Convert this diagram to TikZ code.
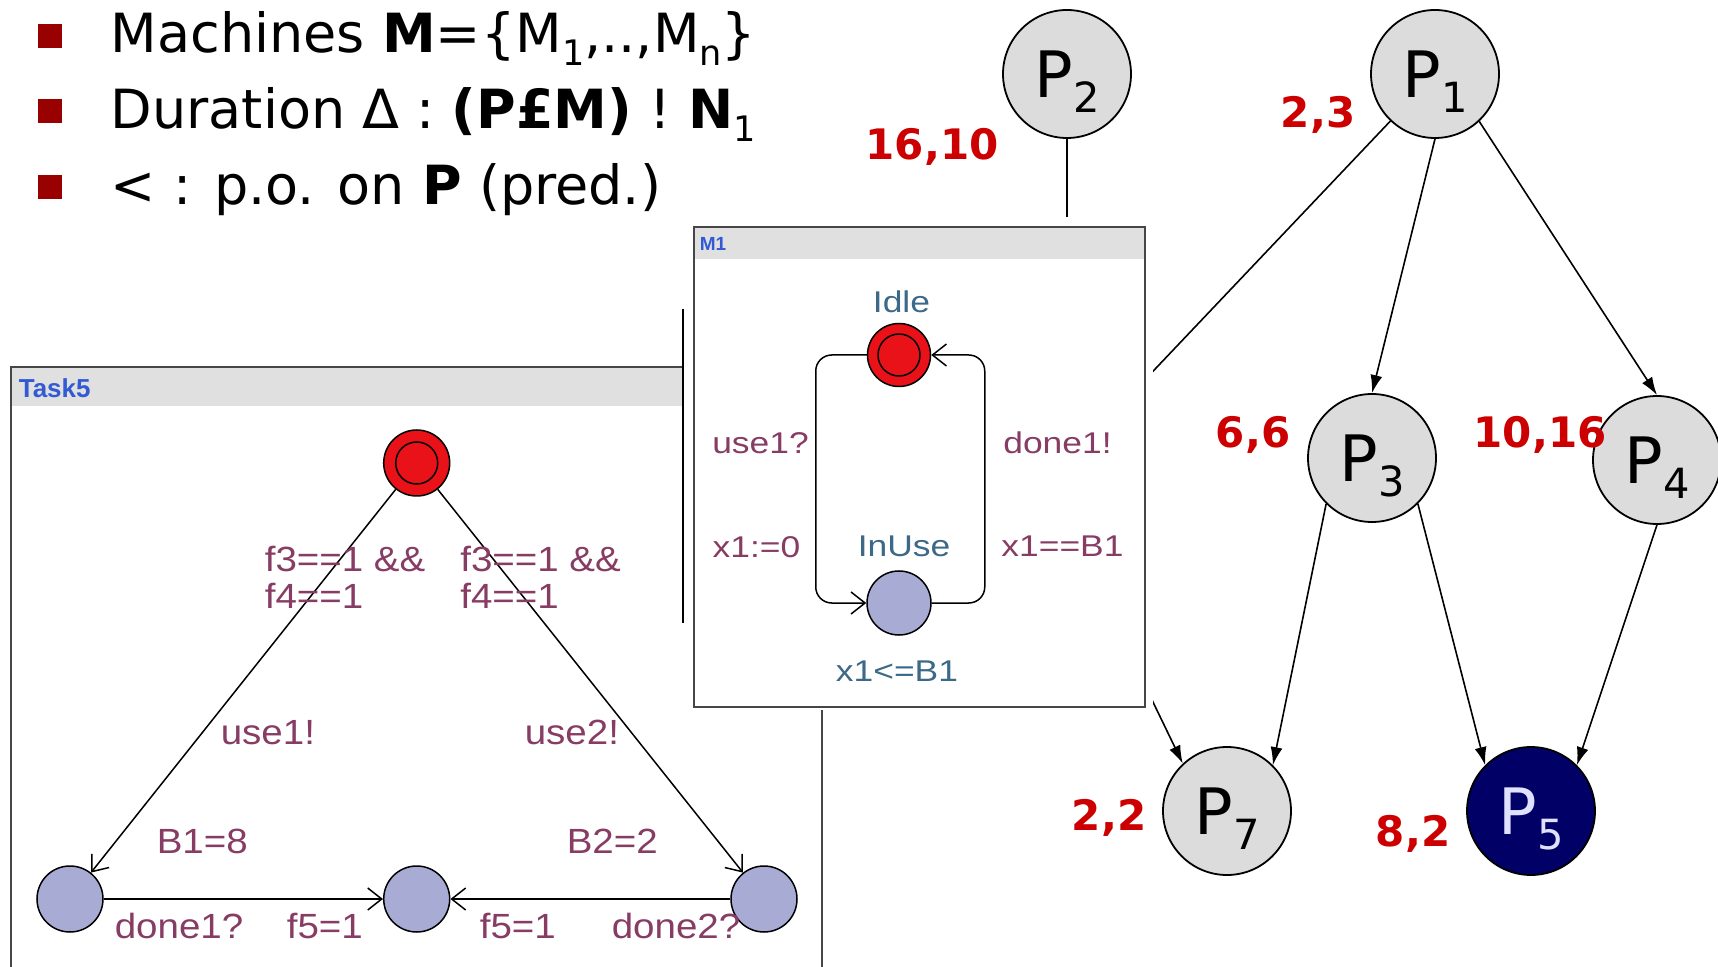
\documentclass[tikz,border=0pt]{standalone}
\usepackage{fontspec}
\setmainfont{DejaVu Sans}
\newfontfamily\winfont{Liberation Sans}
\newfontfamily\uppfont[FakeStretch=1.18]{Liberation Sans}
\newfontfamily\taskfont[FakeStretch=1.1]{Liberation Sans}
\usetikzlibrary{
    arrows.meta,
    positioning
}

\definecolor{bulletred}{RGB}{153,0,0}
\definecolor{costred}{RGB}{204,0,0}
\definecolor{nodegray}{RGB}{220,220,220}
\definecolor{darknavy}{RGB}{0,0,102}
\definecolor{locred}{RGB}{232,18,24}
\definecolor{locblue}{RGB}{168,172,212}
\definecolor{labmaroon}{RGB}{135,60,100}
\definecolor{labteal}{RGB}{60,105,135}
\definecolor{headblue}{RGB}{50,90,210}
\definecolor{headgray}{RGB}{224,224,224}
\definecolor{framegray}{RGB}{70,70,70}

\newcommand{\lowidx}[1]{\raisebox{-.24em}{\scalebox{.65}{#1}}}

\begin{document}
\begin{tikzpicture}[
    x=0.5pt,
    y=-0.5pt,
    line width=0.8pt,
    >={Latex[length=9pt,width=6pt]},
    task/.style={
        circle,
        draw,
        line width=0.9pt,
        fill=nodegray,
        minimum size=64pt,
        inner sep=0pt,
        text depth=0pt,
        font=\fontsize{32}{32}\selectfont
    },
    cost/.style={
        text=costred,
        inner sep=0pt,
        text depth=0pt,
        font=\fontsize{21}{21}\selectfont\bfseries
    },
    bullet/.style={
        fill=bulletred,
        inner sep=0pt,
        minimum size=12pt
    },
    item/.style={
        anchor=base west,
        inner sep=0pt,
        font=\fontsize{27}{27}\selectfont
    },
    window/.style={
        draw=framegray,
        line width=0.9pt
    },
    wintitle/.style={
        text=headblue,
        anchor=west,
        inner sep=0pt,
        font=\winfont\bfseries\fontsize{13}{13}\selectfont
    },
    loc/.style={
        circle,
        draw,
        line width=0.75pt,
        fill=locblue,
        minimum size=33pt,
        inner sep=0pt
    },
    initloc/.style={
        loc,
        fill=locred,
        path picture={
            \draw[line width=0.75pt] (path picture bounding box.center) circle (10.5pt);
        }
    },
    uedge/.style={
        line width=0.75pt,
        -{Straight Barb[length=7pt,width=11pt]}
    },
    tlabel/.style={
        text=labmaroon,
        anchor=west,
        align=left,
        inner sep=0pt,
        text depth=0pt,
        font=\taskfont\fontsize{17.5}{18.5}\selectfont
    },
    mlabel/.style={
        text=labmaroon,
        inner sep=0pt,
        text depth=0pt,
        font=\uppfont\fontsize{15}{15}\selectfont
    },
    mname/.style={
        mlabel,
        text=labteal
    }
]
\useasboundingbox (0,0) rectangle (1718,967);

%--------------------------------------------------
% definitions
\node[bullet] (b1) at (50,36) {};
\node[item] (machines) at (110,52.6)
{Machines \textbf{M}=\{M\lowidx{1},..,M\lowidx{n}\}};

\node[bullet] (b2) at (50,111) {};
\node[item] (duration) at (110,129)
{Duration Δ : \textbf{(P£M)} ! \textbf{N}\lowidx{1}};

\node[bullet] (b3) at (50,187) {};
\node[item] (order) at (110,205)
{< : p.o. on \textbf{P} (pred.)};

%--------------------------------------------------
% task graph
\node[task] (p2) at (1067,74) {P\lowidx{2}};
\node[task] (p1) at (1435,74) {P\lowidx{1}};
\node[task] (p3) at (1372,458) {P\lowidx{3}};
\node[task] (p4) at (1657,460) {P\lowidx{4}};
\node[task] (p7) at (1227,811) {P\lowidx{7}};
\node[task,fill=darknavy,text=white!88!blue] (p5) at (1531,811) {P\lowidx{5}};
\coordinate (p6) at (1047,483);

\node[cost] (c2) at (932,143.5) {16,10};
\node[cost] (c1) at (1318,112) {2,3};
\node[cost] (c3) at (1253,432) {6,6};
\node[cost] (c4) at (1540,432) {10,16};
\node[cost] (c7) at (1109,815) {2,2};
\node[cost] (c5) at (1413,831) {8,2};

\draw[->] (p1.south) -- (p3.north);
\draw[->] (p1.-47) -- (p4.north);
\draw (p1) -- (p6);
\draw (p2) -- (p2 |- p6);
\draw[->] (p6) -- (p7.133);
\draw[->] (p3.-135) -- (p7.45);
\draw[->] (p3.-45) -- (p5.135);
\draw[->] (p4.south) -- (p5.45);

%--------------------------------------------------
% Task5 automaton
\fill[white] (10.6,367) rectangle (822,990);
\fill[headgray] (10.6,367) rectangle (822,406);
\draw[window] (10.6,367) rectangle (822,990);
\node[wintitle] (task5) at (18,388) {Task5};

\node[initloc] (t0) at (416.7,463) {};
\node[loc] (t1) at (70,899) {};
\node[loc] (t3) at (416.7,899) {};
\node[loc] (t2) at (764,899) {};

\draw[uedge] (t0) -- (t1);
\draw[uedge] (t0) -- (t2);
\draw[uedge] (t1) -- (t3);
\draw[uedge] (t2) -- (t3);

\node[tlabel] (g1) at (264,577) {f3==1 \&\&\\f4==1};
\node[tlabel] (g2) at (459.5,577) {f3==1 \&\&\\f4==1};
\node[tlabel] (s1) at (220,732) {use1!};
\node[tlabel] (s2) at (524,732) {use2!};
\node[tlabel] (a1) at (156,841) {B1=8};
\node[tlabel] (a2) at (566,841) {B2=2};
\node[tlabel] (d1) at (114,926) {done1?};
\node[tlabel] (f1) at (286,926) {f5=1};
\node[tlabel] (f2) at (479,926) {f5=1};
\node[tlabel] (d2) at (611,926) {done2?};

%--------------------------------------------------
% M1 automaton
\fill[white] (684,217) rectangle (1153,710);
\draw[line width=0.9pt] (683,309) -- (683,623);
\fill[headgray] (694,227) rectangle (1145,259);
\draw[window] (694,227) rectangle (1145,707);
\node[wintitle,font=\winfont\bfseries\fontsize{9.5}{9.5}\selectfont] (m1) at (699,244) {M1};

\node[initloc,minimum size=31.5pt] (idle) at (899,355) {};
\node[loc,minimum size=32pt] (inuse) at (899,603) {};

\draw[uedge,rounded corners=8pt] (idle.west) -- ++(-51,0) |- (inuse.west);
\draw[uedge,rounded corners=8pt] (inuse.east) -- ++(53,0) |- (idle.east);

\node[mname] (idlename) at (901.5,301.5) {Idle};
\node[mname] (inusename) at (904,546) {InUse};
\node[mname] (inv) at (897,671) {x1<=B1};
\node[mlabel] (use) at (760.5,443) {use1?};
\node[mlabel] (reset) at (756.5,547) {x1:=0};
\node[mlabel] (done) at (1057.5,443) {done1!};
\node[mlabel] (guard) at (1062.5,546.5) {x1==B1};

\end{tikzpicture}
\end{document}
